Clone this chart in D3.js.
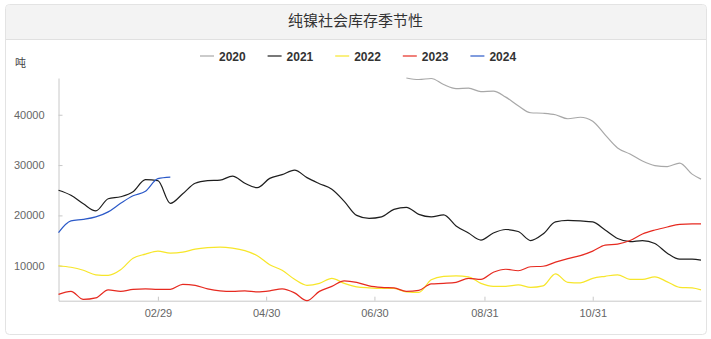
<!DOCTYPE html>
<html lang="zh">
<head>
  <meta charset="UTF-8">
  <title>纯镍社会库存季节性</title>
  <script src="https://d3js.org/d3.v7.min.js"></script>
  <style>
    body {
      margin: 0;
      background: #fff;
      font-family: "Liberation Sans", Arial, sans-serif;
    }
    .axis path,
    .axis line {
      stroke: #c8c8c8;
    }
    .axis text {
      fill: #666;
      font-size: 11px;
      font-family: "Liberation Sans", Arial, sans-serif;
    }
    .series {
      fill: none;
      stroke-width: 1.2px;
    }
  </style>
</head>
<body>
  <div id="chart"></div>

  <script>
    // weekly dates, mapped onto one calendar year
    const weeks = [
      "01-04", "01-11", "01-18", "01-25", "02-01", "02-08", "02-15", "02-22", "02-29",
      "03-07", "03-14", "03-21", "03-28", "04-04", "04-11", "04-18", "04-25",
      "05-02", "05-09", "05-16", "05-23", "05-30", "06-06", "06-13", "06-20", "06-27",
      "07-04", "07-11", "07-18", "07-25", "08-01", "08-08", "08-15", "08-22", "08-29",
      "09-05", "09-12", "09-19", "09-26", "10-03", "10-10", "10-17", "10-24", "10-31",
      "11-07", "11-14", "11-21", "11-28", "12-05", "12-12", "12-19", "12-26", "12-31"
    ];

    const years = ["2020", "2021", "2022", "2023", "2024"];
    const colors = ["#a8a8a8", "#1e1e1e", "#f7e62a", "#e62a20", "#2b59c8"];

    const s2020 = [
      null, null, null, null, null, null, null, null, null,
      null, null, null, null, null, null, null, null,
      null, null, null, null, null, null, null, null, null,
      null, null, 47300, 47000, 47200, 46000, 45200, 45300, 44600,
      44700, 43500, 41800, 40400, 40300, 40000, 39200, 39500, 38700,
      36000, 33400, 32200, 30800, 29900, 29700, 30400, 28200, 27200
    ];
    const s2021 = [
      25000, 24000, 22300, 20900, 23300, 23700, 24700, 27100, 26900,
      22400, 24300, 26400, 26900, 27000, 27800, 26400, 25500,
      27350, 28100, 29000, 27500, 26300, 25200, 22800, 20000, 19400,
      19700, 21200, 21600, 20200, 19700, 20100, 17900, 16500, 15100,
      16500, 17200, 16800, 15000, 16300, 18700, 19000, 18900, 18700,
      17100, 15400, 14800, 15000, 14400, 12500, 11300, 11300, 11100
    ];
    const s2022 = [
      10000, 9700, 9100, 8200, 8100, 9200, 11500, 12300, 12900,
      12500, 12700, 13300, 13600, 13700, 13500, 13000, 12000,
      10200, 9100, 7300, 6100, 6500, 7500, 6500, 5800, 5600,
      5500, 5500, 4800, 4700, 7200, 7900, 8000, 7800, 6500,
      5900, 5900, 6200, 5700, 6000, 8400, 6700, 6600, 7500,
      7900, 8200, 7300, 7300, 7800, 6800, 5700, 5600, 5200
    ];
    const s2023 = [
      4300, 4900, 3300, 3600, 5200, 4900, 5300, 5400, 5300,
      5300, 6300, 6100, 5400, 5000, 4900, 5000, 4800,
      5000, 5400, 4600, 3050, 4900, 5900, 7000, 6700, 6000,
      5700, 5600, 4900, 5100, 6400, 6500, 6700, 7500, 7300,
      8700, 9300, 9000, 9800, 9900, 10700, 11400, 12000, 12900,
      14100, 14300, 15000, 16300, 17100, 17700, 18200, 18300, 18300
    ];
    const s2024 = [
      16600, 18900, 19200, 19700, 20700, 22400, 23900, 24800, 27300,
      27600
    ];

    const yTicks = [10000, 20000, 30000, 40000];
    const xTicks = ["02-29", "04-30", "06-30", "08-31", "10-31"];

    const seriesValues = [s2020, s2021, s2022, s2023, s2024];
    const parse = d3.timeParse("%Y-%m-%d");
    const toDate = s => parse("2024-" + s);

    const series = years.map((yr, i) => ({
      year: yr,
      color: colors[i],
      points: weeks.map((w, j) => ({ date: toDate(w), value: seriesValues[i][j] }))
        .filter(p => p.value != null)
    }));

    const width = 711;
    const height = 339;
    const plot = { left: 58.5, right: 701, top: 78, bottom: 300.7 };

    const svg = d3.select("#chart")
      .append("svg")
      .attr("width", width)
      .attr("height", height);

    // card + title bar
    svg.append("rect")
      .attr("x", 5.5).attr("y", 4.5)
      .attr("width", 701).attr("height", 330)
      .attr("rx", 4)
      .attr("fill", "#fff")
      .attr("stroke", "#e3e3e3");
    svg.append("path")
      .attr("d", "M6,39 V9 a4,4 0 0 1 4,-4 H702 a4,4 0 0 1 4,4 V39 Z")
      .attr("fill", "#f3f3f3");
    svg.append("line")
      .attr("x1", 6).attr("x2", 706)
      .attr("y1", 39.5).attr("y2", 39.5)
      .attr("stroke", "#e0e0e0");
    svg.append("text")
      .attr("x", 355.5).attr("y", 22)
      .attr("text-anchor", "middle")
      .attr("dominant-baseline", "middle")
      .attr("font-family", "'Noto Sans CJK SC', sans-serif")
      .attr("font-size", 15)
      .attr("fill", "#333")
      .text("纯镍社会库存季节性");

    svg.append("text")
      .attr("x", 15).attr("y", 67)
      .attr("font-family", "'Noto Sans CJK SC', sans-serif")
      .attr("font-size", 11)
      .attr("fill", "#444")
      .text("吨");

    const x = d3.scaleTime()
      .domain([toDate("01-04"), toDate("12-31")])
      .range([plot.left, plot.right]);

    const allValues = seriesValues.flat().filter(v => v != null);
    const y = d3.scaleLinear()
      .domain(d3.extent(allValues))
      .range([plot.bottom, plot.top]);

    svg.append("g")
      .attr("class", "axis")
      .attr("transform", `translate(${plot.left},0)`)
      .call(d3.axisLeft(y).tickValues(yTicks).tickFormat(d3.format("d"))
        .tickSizeInner(-4).tickSizeOuter(0).tickPadding(14));

    svg.append("g")
      .attr("class", "axis")
      .attr("transform", `translate(0,${plot.bottom})`)
      .call(d3.axisBottom(x).tickValues(xTicks.map(toDate)).tickFormat(d3.timeFormat("%m/%d"))
        .tickSizeInner(-4).tickSizeOuter(0).tickPadding(9));

    const line = d3.line()
      .x(d => x(d.date))
      .y(d => y(d.value))
      .curve(d3.curveMonotoneX);

    svg.append("g")
      .selectAll("path")
      .data(series)
      .join("path")
        .attr("class", "series")
        .attr("stroke", d => d.color)
        .attr("d", d => line(d.points));

    // legend
    const legend = svg.append("g")
      .selectAll("g")
      .data(series)
      .join("g")
        .attr("transform", (d, i) => `translate(${200 + i * 67.6},56)`);
    legend.append("line")
      .attr("x1", 0).attr("x2", 14)
      .attr("stroke", d => d.color)
      .attr("stroke-width", 1.2);
    legend.append("text")
      .attr("x", 19).attr("y", 4.5)
      .attr("font-size", 12)
      .attr("font-weight", "bold")
      .attr("fill", "#333")
      .text(d => d.year);
  </script>
</body>
</html>
